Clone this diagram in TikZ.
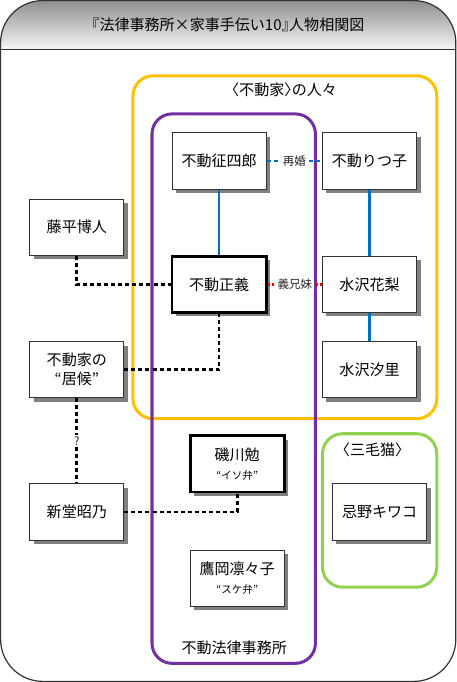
\documentclass[tikz,border=0pt]{standalone}
\usepackage{fontspec}
\setmainfont{Noto Sans CJK JP}
\newfontfamily\tightfont[RawFeature=+halt]{Noto Sans CJK JP}
\usetikzlibrary{shadows}
\definecolor{famgold}{RGB}{255,192,0}
\definecolor{lawpurple}{RGB}{112,48,160}
\definecolor{catgreen}{RGB}{146,208,80}
\definecolor{kinblue}{RGB}{0,112,192}
\newcommand\nickname[1]{{\fontsize{10.5}{12}\selectfont #1}}

\begin{document}
\begin{tikzpicture}[x=1pt,y=-1pt,font=\fontsize{15}{19}\selectfont,
	person/.style={rectangle,draw=black!80,fill=white,line width=1pt,minimum width=94pt,minimum height=56pt,align=center,
		drop shadow={shadow xshift=4pt,shadow yshift=-4pt,fill=black!50,opacity=1}},
	lead/.style={person,draw=black,line width=2.8pt},
	group/.style={rounded corners=20pt,line width=3pt},
	tie/.style={line width=2.6pt,dash pattern=on 4pt off 3pt},
	kin/.style={kinblue,line width=2.6pt},
	tag/.style={font=\fontsize{11.5}{13}\selectfont,text=black!85,fill=white,inner sep=1.5pt}]
	% frame and title band
	\begin{scope}
		\clip[rounded corners=42pt] (1,1) rectangle (455,680);
		\shade[top color=black!45,bottom color=black!3] (0,0) rectangle (456,50);
	\end{scope}
	\draw[rounded corners=42pt,line width=1.2pt,black!80] (1,1) rectangle (455,680);
	\draw[line width=1.2pt,black!80] (1,50) -- (455,50);
	\node (title) at (228,25) {\tightfont 『法律事務所×家事手伝い10』人物相関図};

	% groups
	\draw[group,famgold] (133,76) rectangle (436,418);
	\draw[group,lawpurple] (152,114) rectangle (315,662);
	\draw[group,catgreen] (322,433) rectangle (436,586);
	\node (famlabel) at (284,90) {\tightfont〈不動家〉の人々};
	\node (lawlabel) at (234,646) {不動法律事務所};
	\node (catlabel) at (372,449) {\tightfont〈三毛猫〉};

	% people
	\node (seishiro) [person] at (219,161) {不動征四郎};
	\node (ritsuko) [person] at (369,161) {不動りつ子};
	\node (hiroto) [person] at (77,227) {藤平博人};
	\node (masayoshi) [lead] at (219,284) {不動正義};
	\node (karin) [person] at (369,284) {水沢花梨};
	\node (isoro) [person] at (77,369) {不動家の\\“居候”};
	\node (shiori) [person] at (369,369) {水沢汐里};
	\node (isokawa) [lead] at (237,463) {磯川勉\\\nickname{“イソ弁”}};
	\node (akino) [person] at (77,511) {新堂昭乃};
	\node (kiwako) [person] at (379,511) {忌野キワコ};
	\node (takaoka) [person] at (237,577) {鷹岡凛々子\\\nickname{“スケ弁”}};

	% relations
	\draw[kin,dash pattern=on 4pt off 3pt] (seishiro) -- node[tag] {再婚} (ritsuko);
	\draw[kin] (seishiro) -- (masayoshi);
	\draw[kin] (ritsuko) -- (karin);
	\draw[kin] (karin) -- (shiori);
	\draw[red,line width=2.4pt,dash pattern=on 2pt off 2pt] (masayoshi) -- node[tag] {義兄妹} (karin);
	\draw[tie] (hiroto.south) |- (masayoshi.west);
	\draw[tie] (isoro.east) -| (masayoshi.south);
	\draw[tie] (isoro) -- node[tag] {?} (akino);
	\draw[tie] (akino.east) -| (isokawa.south);
\end{tikzpicture}
\end{document}
